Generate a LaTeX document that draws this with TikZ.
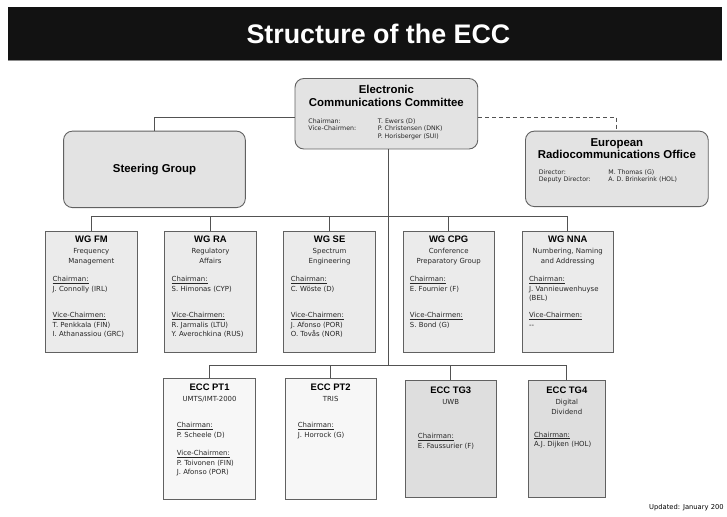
\documentclass[tikz,border=0pt]{standalone}
\usepackage{fontspec}
\setmainfont{Liberation Sans}
\newfontfamily\dejavu{DejaVu Sans}
\usetikzlibrary{positioning}

\begin{document}
\begin{tikzpicture}[x=1pt, y=-1pt,
        link/.style={draw=black!68, line width=0.9pt},
        officebox/.style={rectangle, draw=black!62, line width=0.9pt, rounded corners=9pt, fill=black!11, inner xsep=11pt, inner ysep=0pt},
        wgbox/.style={rectangle, draw=black!62, line width=0.9pt, fill=black!8, inner xsep=7pt, inner ysep=0pt},
        ptbox/.style={wgbox, fill=black!3, inner xsep=13pt},
        tgbox/.style={wgbox, fill=black!13, inner xsep=13pt}]
        \def\boxgap{27pt}
        \def\bxht{122pt}
        \def\bxwd{78pt}
        \def\bxtop{11pt}
        \def\role#1{\hspace*{2.5pt}\makebox[70pt][l]{#1}}
        \def\officetext#1#2#3#4{\parbox[c][#1][t]{162pt}{\centering
                {\fontsize{11.5}{13}\selectfont\bfseries\rule{0pt}{15pt}#2\par}\vspace{#3}%
                {\raggedright\dejavu\fontsize{6.3}{7.5}\selectfont\color{black!85}#4\par}}}
        \def\grouptext#1#2#3{\parbox[c][\bxht][t]{\bxwd}{\centering
                {\fontsize{9.5}{10}\selectfont\bfseries\rule{0pt}{\bxtop}#1\par}\vspace{1.5pt}%
                {\dejavu\fontsize{7}{9.7}\selectfont\color{black!85}#2\par\raggedright #3\par}}}

        \fill[white] (0,0) rectangle (727,520);
        \fill[black!93] (8,7) rectangle (727,60);
        \draw[black!45, line width=1.5pt] (8,61) -- (727,61);
        \node[text=white, font=\fontsize{27}{30}\selectfont\bfseries] (title) at (381,34) {Structure of the ECC};

        \node[officebox] (ecc) at (389,114.5) {\officetext{71pt}{Electronic\\Communications Committee}{9.5pt}{\role{Chairman:}T. Ewers (D)\\\role{Vice-Chairmen:}P. Christensen (DNK)\\\role{}P. Horisberger (SUI)}};
        \node[officebox, minimum width=183pt, minimum height=77pt, font=\fontsize{11.5}{13}\selectfont\bfseries] (steer) at (155.5,170.5) {Steering Group};
        \node[officebox] (ero) at (621,170) {\officetext{76pt}{European\\Radiocommunications Office}{7.7pt}{\role{Director:}M. Thomas (G)\\\role{Deputy Director:}A. D. Brinkerink (HOL)}};

        \node[wgbox] (wgfm) at (92,294) {\grouptext{WG FM}{Frequency\\Management}{\vspace{8.9pt}\underline{Chairman:}\\J. Connolly (IRL)\\[16.6pt]\underline{Vice-Chairmen:}\\T. Penkkala (FIN)\\I. Athanassiou (GRC)}};
        \node[wgbox, right=\boxgap of wgfm] (wgra) {\grouptext{WG RA}{Regulatory\\Affairs}{\vspace{8.9pt}\underline{Chairman:}\\S. Himonas (CYP)\\[16.6pt]\underline{Vice-Chairmen:}\\R. Jarmalis (LTU)\\Y. Averochkina (RUS)}};
        \node[wgbox, right=\boxgap of wgra] (wgse) {\grouptext{WG SE}{Spectrum\\Engineering}{\vspace{8.9pt}\underline{Chairman:}\\C. Wöste (D)\\[16.6pt]\underline{Vice-Chairmen:}\\J. Afonso (POR)\\O. Tovås (NOR)}};
        \node[wgbox, right=\boxgap of wgse] (wgcpg) {\grouptext{WG CPG}{Conference\\Preparatory Group}{\vspace{8.9pt}\underline{Chairman:}\\E. Fournier (F)\\[16.6pt]\underline{Vice-Chairmen:}\\S. Bond (G)}};
        \node[wgbox, right=\boxgap of wgcpg] (wgnna) {\grouptext{WG NNA}{Numbering, Naming\\and Addressing}{\vspace{8.9pt}\underline{Chairman:}\\J. Vannieuwenhuyse\\(BEL)\\[6.9pt]\underline{Vice-Chairmen:}\\-{}-}};

        \def\bxwd{66pt}
        \def\bxtop{12.5pt}
        \node[ptbox] (pt1) at (211,442) {\grouptext{ECC PT1}{UMTS/IMT-2000}{\vspace{16.1pt}\underline{Chairman:}\\P. Scheele (D)\\[8.6pt]\underline{Vice-Chairmen:}\\P. Toivonen (FIN)\\J. Afonso (POR)}};
        \node[ptbox, right=29pt of pt1] (pt2) {\grouptext{ECC PT2}{TRIS}{\vspace{16.1pt}\underline{Chairman:}\\J. Horrock (G)}};
        \def\bxht{117pt}
        \node[tgbox, right=28pt of pt2] (tg3) {\grouptext{ECC TG3}{UWB}{\vspace{25pt}\underline{Chairman:}\\E. Faussurier (F)}};
        \node[tgbox, inner xsep=6pt, right=31pt of tg3] (tg4) {\grouptext{ECC TG4}{Digital\\Dividend}{\vspace{13.4pt}\underline{Chairman:}\\A.J. Dijken (HOL)}};

        \coordinate (wgbus) at (391,218);
        \coordinate (ptbus) at (391,368);
        \draw[link] ([yshift=-3.5pt]ecc.west) -| (steer.north);
        \draw[link, dash pattern=on 4pt off 3pt] ([yshift=-3.5pt]ecc.east) -| (ero.north);
        \draw[link] (ecc.south -| ptbus) -- (ptbus);
        \draw[link] (wgfm.north) |- (wgbus) -| (wgnna.north);
        \draw[link] (wgra.north) -- (wgra.north |- wgbus);
        \draw[link] (wgse.north) -- (wgse.north |- wgbus);
        \draw[link] (wgcpg.north) -- (wgcpg.north |- wgbus);
        \draw[link] (pt1.north) |- (ptbus) -| (tg4.north);
        \draw[link] (pt2.north) -- (pt2.north |- ptbus);
        \draw[link] (tg3.north) -- (tg3.north |- ptbus);

        \node[anchor=west, font=\dejavu\fontsize{6.8}{8}\selectfont] (updated) at (650,511) {Updated: January 200};
\end{tikzpicture}
\end{document}
